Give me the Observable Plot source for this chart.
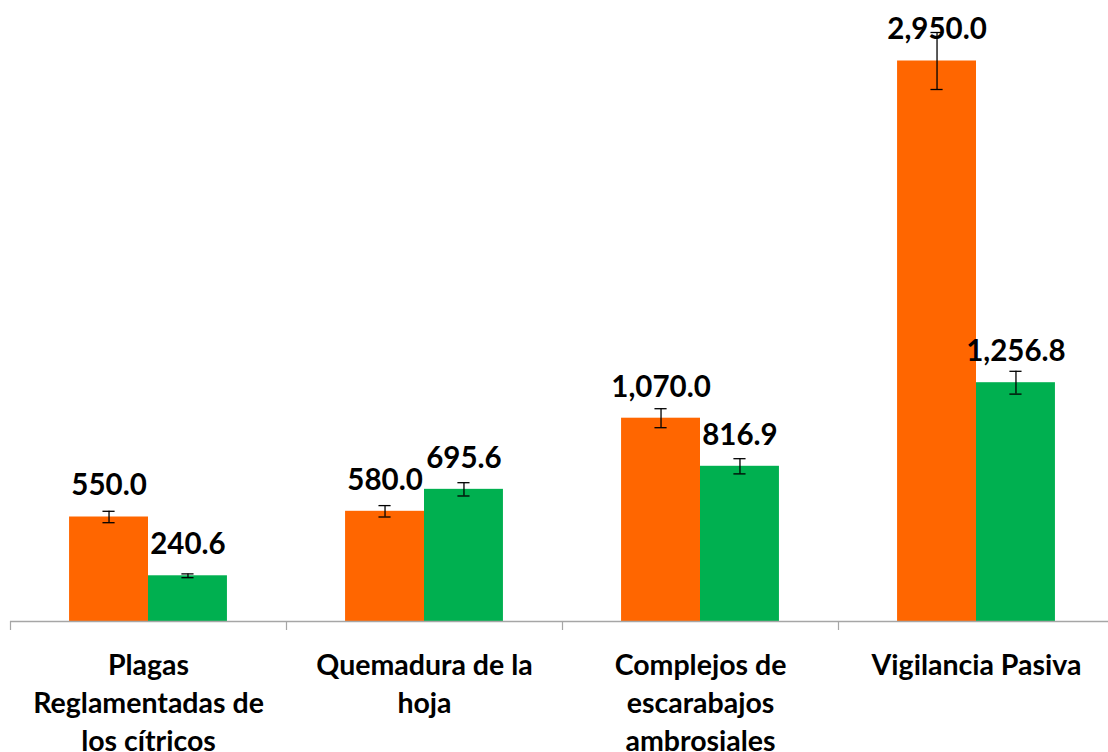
<!DOCTYPE html>
<html>
<head>
<meta charset="utf-8">
<script src="https://cdn.jsdelivr.net/npm/d3@7"></script>
<script src="https://cdn.jsdelivr.net/npm/@observablehq/plot@0.6"></script>
<style>
  html, body { margin: 0; padding: 0; background: #fff; }
  #chart svg { display: block; }
</style>
</head>
<body>
<div id="chart"></div>
<script>
const categories = [
  "Plagas\nReglamentadas de\nlos cítricos",
  "Quemadura de la\nhoja",
  "Complejos de\nescarabajos\nambrosiales",
  "Vigilancia Pasiva"
];
const seriesNames = ["A", "B"];
const valuesA = [550.0, 580.0, 1070.0, 2950.0];
const valuesB = [240.6, 695.6, 816.9, 1256.8];
const errorsA = [30, 30, 50, 150];
const errorsB = [10, 35, 40, 60];
const colors = ["#FF6600", "#00B050"];

const rows = [];
categories.forEach((c, i) => {
  rows.push({cat: i, series: 0, value: valuesA[i], err: errorsA[i]});
  rows.push({cat: i, series: 1, value: valuesB[i], err: errorsB[i]});
});
const barW = 0.286;
const left = d => d.cat + 0.5 - (d.series === 0 ? barW : 0);
const right = d => left(d) + barW;
const mid = d => left(d) + barW / 2;
const cap = 0.022;
const fmt = d3.format(",.1f");
const labelRows = categories.map((c, i) => ({cat: i, label: c}));

const chart = Plot.plot({
  width: 1108,
  height: 752,
  marginLeft: 10,
  marginRight: -6,
  marginTop: 13,
  marginBottom: 131,
  x: {domain: [0, categories.length], axis: null},
  y: {domain: [0, 3200], axis: null},
  style: {fontFamily: "Lato, 'Open Sans', sans-serif", background: "#fff"},
  marks: [
    Plot.rectY(rows, {x1: left, x2: right, y1: 0, y2: "value", fill: d => colors[d.series]}),
    Plot.ruleY([0], {stroke: "#a6a6a6", strokeWidth: 1.5}),
    Plot.axisX({ticks: d3.range(categories.length + 1), tickFormat: () => "", tickSize: 9, stroke: "#a6a6a6", strokeWidth: 1.2}),
    Plot.ruleX(rows, {x: mid, y1: d => d.value - d.err, y2: d => d.value + d.err, stroke: "#000", strokeWidth: 1.3}),
    Plot.ruleY(rows, {y: d => d.value + d.err, x1: d => mid(d) - cap, x2: d => mid(d) + cap, stroke: "#000", strokeWidth: 1.3}),
    Plot.ruleY(rows, {y: d => d.value - d.err, x1: d => mid(d) - cap, x2: d => mid(d) + cap, stroke: "#000", strokeWidth: 1.3}),
    Plot.text(rows, {x: mid, y: "value", text: d => fmt(d.value), dy: -31, fontSize: 29.5, fontWeight: "bold", fill: "#000"}),
    Plot.text(labelRows, {x: d => d.cat + 0.5, y: 0, text: "label", lineAnchor: "top", dy: 26, fontSize: 28.5, lineHeight: 1.34, fontWeight: "bold", fill: "#000"})
  ]
});
document.getElementById("chart").appendChild(chart);
</script>
</body>
</html>
